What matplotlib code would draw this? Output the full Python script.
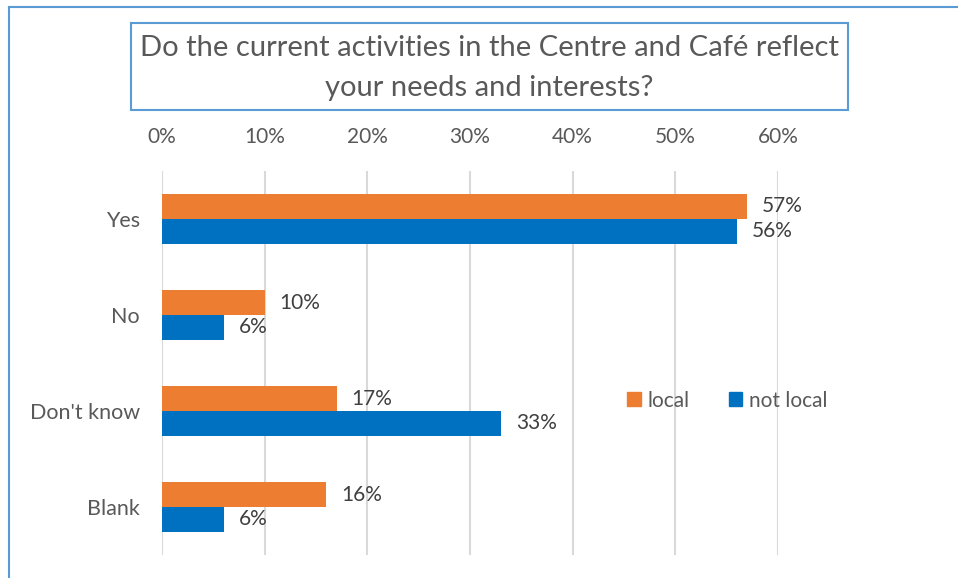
import matplotlib.pyplot as plt
import numpy as np
from matplotlib.patches import Patch
from matplotlib.lines import Line2D

plt.rcParams['font.family'] = ['Lato', 'DejaVu Sans']

categories = ["Yes", "No", "Don't know", "Blank"]
local = [57, 10, 17, 16]
not_local = [56, 6, 33, 6]
xticks = [0, 10, 20, 30, 40, 50, 60]

orange = "#ED7D31"
blue = "#0070C0"
frame = "#5B9BD5"
grey_txt = "#595959"

fig = plt.figure(figsize=(9.58, 5.78), dpi=100)
ax = fig.add_axes([0.1691, 0.0398, 0.643, 0.6644])

y = np.arange(len(categories))
h = 0.26
b1 = ax.barh(y - h / 2, local, height=h, color=orange, label="local", zorder=3)
b2 = ax.barh(y + h / 2, not_local, height=h, color=blue, label="not local", zorder=3)

for bars, vals in ((b1, local), (b2, not_local)):
    for bar, v in zip(bars, vals):
        ax.annotate(f"{v}%", (v, bar.get_y() + bar.get_height() / 2),
                    xytext=(15, 0), textcoords="offset pixels",
                    ha="left", va="center", fontsize=15, color="#404040",
                    annotation_clip=False)

ax.set_ylim(3.5, -0.5)
ax.set_xlim(0, 60)
ax.set_xticks(xticks)
ax.set_xticklabels([f"{t}%" for t in xticks], fontsize=15, color=grey_txt)
ax.xaxis.tick_top()
ax.tick_params(axis="x", length=0, pad=17)
ax.set_yticks(y)
ax.set_yticklabels(categories, fontsize=15.5, color=grey_txt)
ax.tick_params(axis="y", length=0, pad=16)
ax.grid(axis="x", color="#D9D9D9", linewidth=1.5, zorder=0)
for s in ax.spines.values():
    s.set_visible(False)

handles = [Patch(color=orange, label="local"), Patch(color=blue, label="not local")]
ax.legend(handles=handles, loc="center left", bbox_to_anchor=(0.725, 0.402),
          ncol=2, frameon=False, fontsize=15, handlelength=0.65, handleheight=0.65,
          handletextpad=0.3, columnspacing=1.9, labelcolor=grey_txt)

# outer chart frame (left and top edges)
fig.add_artist(Line2D([0.0099, 0.0099], [0, 1 - 7 / 578], transform=fig.transFigure,
                      color=frame, linewidth=1.5))
fig.add_artist(Line2D([0.0099, 1.0], [1 - 7 / 578, 1 - 7 / 578], transform=fig.transFigure,
                      color=frame, linewidth=1.5))

# title in a bordered box
fig.text(489 / 958, 1 - 68 / 578,
         "Do the current activities in the Centre and Café reflect\nyour needs and interests?",
         ha="center", va="center", fontsize=21, color=grey_txt, linespacing=1.68)
fig.add_artist(plt.Rectangle((131 / 958, 1 - 110 / 578), 717 / 958, 87 / 578,
                             transform=fig.transFigure, fill=False,
                             edgecolor=frame, linewidth=1.5))

fig.savefig("out.png", dpi=100)
